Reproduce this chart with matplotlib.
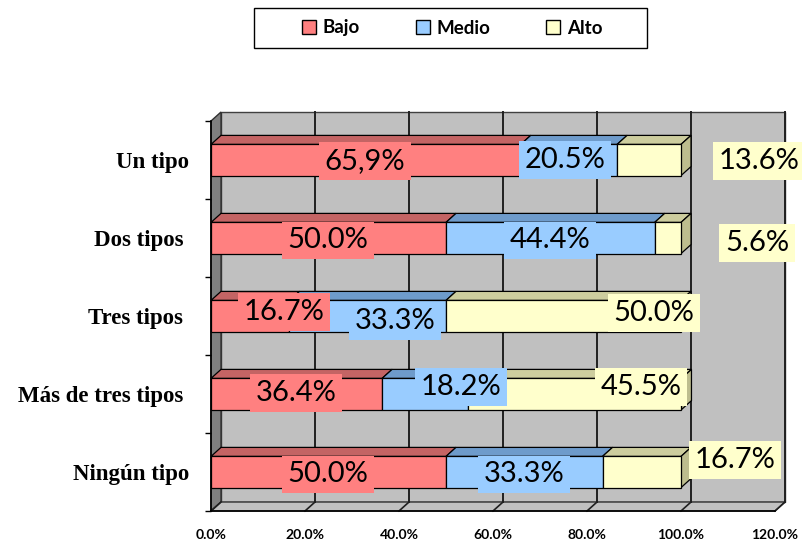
import matplotlib
matplotlib.use("Agg")
import matplotlib.pyplot as plt
from matplotlib.patches import Polygon, Rectangle

# ---- data -------------------------------------------------------------
categories = ["Un tipo", "Dos tipos ", "Tres tipos ", "Más de tres tipos ", "Ningún tipo"]
series = ["Bajo", "Medio", "Alto"]
bajo = [65.9, 50.0, 16.7, 36.4, 50.0]
medio = [20.5, 44.4, 33.3, 18.2, 33.3]
alto = [13.6, 5.6, 50.0, 45.5, 16.7]
xticks = [0, 20, 40, 60, 80, 100, 120]

# ---- styling / layout -------------------------------------------------
front_colors = ["#FF8080", "#99CCFF", "#FFFFCC"]
top_colors = ["#C46464", "#6E9BCB", "#CDCD9E"]
side_colors = ["#C46464", "#6E9BCB", "#BDBD8E"]

# label centres (x in %, y in category units) for Bajo / Medio / Alto
bajo_lx = [32.8, 24.9, 15.5, 18.1, 24.9]
bajo_ly = [3.99, 2.97, 2.05, 1.01, -0.03]
medio_lx = [75.3, 72.1, 39.1, 53.2, 66.6]
medio_ly = [4.00, 2.97, 1.94, 1.09, -0.03]
alto_lx = [116.6, 116.2, 94.3, 91.5, 111.5]
alto_ly = [3.99, 2.94, 2.04, 1.09, 0.15]

LABEL_FONT = ["Lato", "DejaVu Sans"]

fig = plt.figure(figsize=(8.02, 5.41), dpi=100)
W, H = 802, 541
ax = fig.add_axes([211 / W, 1 - 511 / H, 564 / W, 390 / H])
ax.set_xlim(0, 120)
ax.set_ylim(-0.5, 4.5)
for sp in ax.spines.values():
    sp.set_visible(False)

px_per_x = 564 / 120
px_per_y = 390 / 5
DX = 10 / px_per_x   # depth offset of the 3-D box
DY = 9 / px_per_y
n = len(categories)
ymin, ymax = -0.5, n - 0.5

# back wall, side wall and floor
ax.add_patch(Rectangle((DX, ymin + DY), 120, n, fc="#C0C0C0", ec="#404040",
                       lw=1, zorder=0, clip_on=False))
ax.add_patch(Polygon([(0, ymin), (DX, ymin + DY), (DX, ymax + DY), (0, ymax)],
                     closed=True, fc="#808080", ec="#303030", lw=1,
                     zorder=1, clip_on=False))
ax.add_patch(Polygon([(0, ymin), (120, ymin), (120 + DX, ymin + DY), (DX, ymin + DY)],
                     closed=True, fc="#C0C0C0", ec="#303030", lw=1,
                     zorder=1, clip_on=False))

# gridlines on the wall and floor
for t in xticks[1:]:
    ax.plot([t + DX, t + DX], [ymin + DY, ymax + DY], color="#202020", lw=1.4,
            zorder=1.5, clip_on=False)
for t in xticks:
    ax.plot([t, t + DX], [ymin, ymin + DY], color="#202020", lw=1.2,
            zorder=1.5, clip_on=False)

# front edges of the box
ax.plot([0, 0], [ymin, ymax], color="black", lw=1.2, zorder=2, clip_on=False)
ax.plot([0, 120], [ymin, ymin], color="black", lw=1.2, zorder=2, clip_on=False)

# stacked 3-D bars
h = 0.4
values = [bajo, medio, alto]
for i in range(n):
    y = n - 1 - i
    left = 0.0
    for s in range(len(series)):
        w = values[s][i]
        right = left + w
        ax.add_patch(Polygon([(left, y + h / 2), (right, y + h / 2),
                              (right + DX, y + h / 2 + DY), (left + DX, y + h / 2 + DY)],
                             closed=True, fc=top_colors[s], ec="black", lw=0.9,
                             zorder=3, clip_on=False))
        ax.add_patch(Rectangle((left, y - h / 2), w, h, fc=front_colors[s],
                               ec="black", lw=0.9, zorder=4, clip_on=False))
        left = right
    ax.add_patch(Polygon([(left, y - h / 2), (left + DX, y - h / 2 + DY),
                          (left + DX, y + h / 2 + DY), (left, y + h / 2)],
                         closed=True, fc=side_colors[-1], ec="black", lw=0.9,
                         zorder=3, clip_on=False))

# value labels
label_x = [bajo_lx, medio_lx, alto_lx]
label_y = [bajo_ly, medio_ly, alto_ly]
for s in range(len(series)):
    for i in range(n):
        v = values[s][i]
        txt = f"{v:.1f}%"
        if s == 0 and i == 0:
            txt = txt.replace(".", ",")
        ax.text(label_x[s][i], label_y[s][i], txt, ha="center", va="center",
                fontsize=21, family=LABEL_FONT, color="black", zorder=10,
                clip_on=False,
                bbox=dict(boxstyle="square,pad=0.2", fc=front_colors[s], ec="none"))

# axes ticks
ax.set_xticks(xticks, labels=[f"{t:.1f}%" for t in xticks])
ax.tick_params(axis="x", length=0, pad=13)
for lab in ax.get_xticklabels():
    lab.set_fontfamily(LABEL_FONT)
    lab.set_fontweight("bold")
    lab.set_fontsize(10)

ax.set_yticks([n - 1 - i for i in range(n)], labels=categories)
ax.set_yticks([k - 0.5 for k in range(n + 1)], minor=True)
ax.tick_params(axis="y", which="major", length=0, pad=16)
ax.tick_params(axis="y", which="minor", length=4.5, width=1, direction="out")
for lab in ax.get_yticklabels():
    lab.set_fontfamily(["Liberation Serif", "DejaVu Serif"])
    lab.set_fontweight("bold")
    lab.set_fontsize(16.5)

# legend
handles = [Rectangle((0, 0), 1, 1, fc=c, ec="black", lw=1) for c in front_colors]
fig.add_artist(Rectangle((254 / W, 1 - 48 / H), 393 / W, 40 / H, transform=fig.transFigure,
                         fc="white", ec="black", lw=1))
fig.legend(handles, series, loc="center", bbox_to_anchor=(452 / W, 1 - 28 / H),
           ncol=3, frameon=False, handlelength=0.75, handleheight=0.75,
           handletextpad=0.35, columnspacing=3.0,
           prop={"family": LABEL_FONT, "weight": "bold", "size": 13.5})

fig.savefig("out.png", dpi=100)
